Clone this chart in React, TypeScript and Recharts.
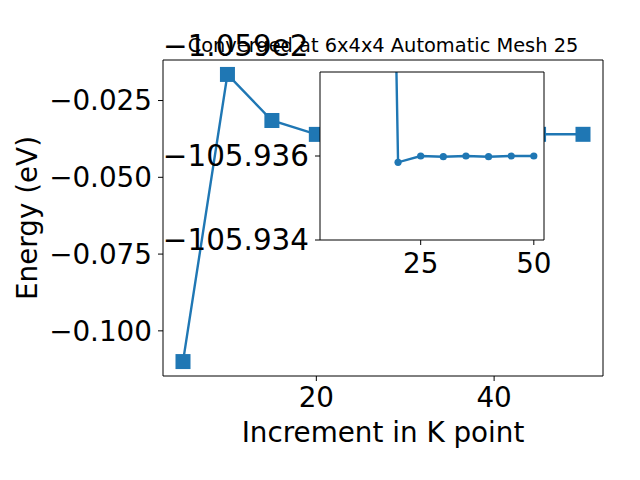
import { LineChart, Line, XAxis, YAxis, CartesianGrid, Label } from 'recharts'

const KPOINTS = [5, 10, 15, 20, 25, 30, 35, 40, 45, 50]
// total energy (eV) per k-point mesh increment
const ENERGY = [
  -106.01, -105.9165, -105.9315, -105.9360225, -105.936, -105.9360025, -105.936, -105.9360025,
  -105.936, -105.936,
]
const OFFSET = -105.9
const OFFSET_LABEL = '−1.059e2'
const TITLE = 'Converged at 6x4x4 Automatic Mesh 25'
// the inset zooms in from the third mesh onwards
const INSET_START = 2

const MAIN_X_TICKS = [20, 40]
const MAIN_Y_TICKS = [-0.1, -0.075, -0.05, -0.025]
const INSET_X_TICKS = [25, 50]
const INSET_Y_TICKS = [-105.9363, -105.936]
const INSET_Y_LABELS = ['−105.934', '−105.936']

const BLUE = '#1f77b4'
const FONT = 'DejaVu Sans, sans-serif'
const TICK = { fill: '#000', fontSize: 27.8, fontFamily: FONT }
const INSET_Y_TICK = { fill: '#000', fontSize: 29.4, fontFamily: FONT }

const data = KPOINTS.map((k, i) => ({ k, rel: ENERGY[i] - OFFSET, abs: ENERGY[i] }))
const insetData = data.slice(INSET_START)

const fmtMain = (v: number) => (v < 0 ? '−' : '') + Math.abs(v).toFixed(3)
const fmtInset = (v: number) => {
  const i = INSET_Y_TICKS.findIndex(t => Math.abs(t - v) < 1e-7)
  return i >= 0 ? INSET_Y_LABELS[i] : ''
}

const SquareDot = (props: any) => {
  const { cx, cy, index } = props
  if (cx == null || cy == null) return null
  return <rect key={index} x={cx - 7.5} y={cy - 7.5} width={15} height={15} fill={BLUE} />
}

const App = () => {
  return (
    <div style={{ position: 'absolute', left: 0, top: 0, width: 640, height: 480, background: '#fff' }}>
      <div style={{ position: 'absolute', left: 0, top: 0 }}>
        <LineChart width={640} height={480} data={data} margin={{ top: 59, right: 36, bottom: 0, left: 0 }}>
          <XAxis
            dataKey="k"
            type="number"
            domain={[2.75, 52.25]}
            ticks={MAIN_X_TICKS}
            height={104}
            tick={TICK}
            tickSize={5}
            tickMargin={6}
            stroke="#000"
            axisLine={{ stroke: '#000', strokeWidth: 1 }}
          >
            <Label
              value="Increment in K point"
              position="insideBottom"
              offset={38}
              style={{ fill: '#000', fontSize: 27.8, fontFamily: FONT }}
            />
          </XAxis>
          <XAxis
            xAxisId="top"
            orientation="top"
            dataKey="k"
            type="number"
            domain={[2.75, 52.25]}
            height={1}
            tick={false}
            tickLine={false}
            axisLine={{ stroke: '#000' }}
          >
            <Label value={TITLE} position="top" offset={7} style={{ fill: '#000', fontSize: 19.4, fontFamily: FONT }} />
            <Label
              content={({ viewBox }: any) => (
                <text x={viewBox.x} y={viewBox.y - 3} fill="#000" fontSize={29.4} fontFamily={FONT}>
                  {OFFSET_LABEL}
                </text>
              )}
            />
          </XAxis>
          <YAxis
            type="number"
            domain={[-0.1147, -0.0118]}
            ticks={MAIN_Y_TICKS}
            width={163}
            tick={TICK}
            tickFormatter={fmtMain}
            tickSize={5}
            tickMargin={6}
            stroke="#000"
            axisLine={{ stroke: '#000', strokeWidth: 1 }}
          >
            <Label
              content={({ viewBox }: any) => {
                const cy = viewBox.y + viewBox.height / 2
                return (
                  <text
                    x={27}
                    y={cy}
                    transform={`rotate(-90 27 ${cy})`}
                    textAnchor="middle"
                    dominantBaseline="central"
                    fill="#000"
                    fontSize={27.8}
                    fontFamily={FONT}
                  >
                    Energy (eV)
                  </text>
                )
              }}
            />
          </YAxis>
          <YAxis
            yAxisId="right"
            orientation="right"
            type="number"
            domain={[-0.1147, -0.0118]}
            width={1}
            tick={false}
            tickLine={false}
            axisLine={{ stroke: '#000' }}
          />
          <Line
            type="linear"
            dataKey="rel"
            stroke={BLUE}
            strokeWidth={2.4}
            dot={<SquareDot />}
            activeDot={false}
            isAnimationActive={false}
          />
        </LineChart>
      </div>
      <div style={{ position: 'absolute', left: 0, top: 0, pointerEvents: 'none' }}>
        <LineChart width={640} height={480} data={insetData} margin={{ top: 71, right: 95, bottom: 200, left: 0 }}>
          <CartesianGrid fill="#fff" stroke="none" horizontal={false} vertical={false} />
          <XAxis
            dataKey="k"
            type="number"
            domain={[2.75, 52.25]}
            allowDataOverflow
            ticks={INSET_X_TICKS}
            height={40}
            tick={TICK}
            tickSize={5}
            tickMargin={8}
            stroke="#000"
            axisLine={{ stroke: '#000' }}
          />
          <XAxis
            xAxisId="top"
            orientation="top"
            dataKey="k"
            type="number"
            domain={[2.75, 52.25]}
            height={1}
            tick={false}
            tickLine={false}
            axisLine={{ stroke: '#000' }}
          />
          <YAxis
            type="number"
            domain={[-105.9363, -105.9357]}
            allowDataOverflow
            ticks={INSET_Y_TICKS}
            tickFormatter={fmtInset}
            width={320}
            tick={INSET_Y_TICK}
            tickSize={5}
            tickMargin={6}
            stroke="#000"
            axisLine={{ stroke: '#000' }}
          />
          <YAxis
            yAxisId="right"
            orientation="right"
            type="number"
            domain={[0, 1]}
            width={1}
            tick={false}
            tickLine={false}
            axisLine={{ stroke: '#000' }}
          />
          <Line
            type="linear"
            dataKey="abs"
            stroke={BLUE}
            strokeWidth={2.4}
            dot={{ r: 3.6, fill: BLUE, stroke: BLUE, strokeWidth: 0 }}
            activeDot={false}
            isAnimationActive={false}
          />
        </LineChart>
      </div>
    </div>
  )
}

export default App
